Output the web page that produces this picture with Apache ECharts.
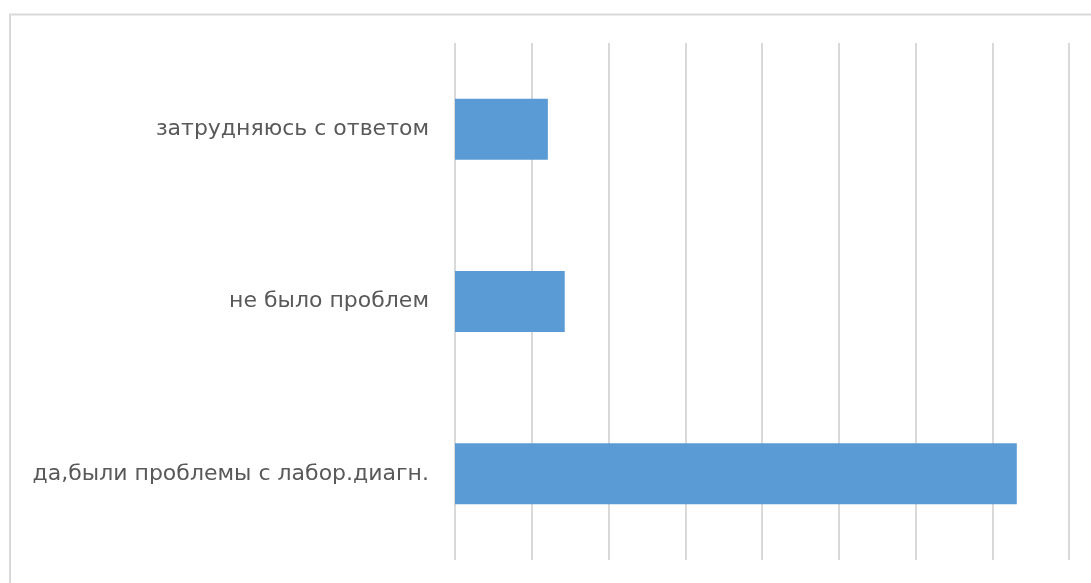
<!DOCTYPE html>
<html>
<head>
<meta charset="utf-8">
<script src="https://cdn.jsdelivr.net/npm/echarts@6/dist/echarts.min.js"></script>
<style>
html,body{margin:0;padding:0;background:#fff;}
#chart{width:1091px;height:583px;}
</style>
</head>
<body>
<div id="chart"></div>
<script>
const categories = ['затрудняюсь с ответом', 'не было проблем', 'да,были проблемы с лабор.диагн.'];
const values = [12.1, 14.3, 73.2];
const axisMin = 0, axisMax = 80, axisStep = 10;

const chart = echarts.init(document.getElementById('chart'));
chart.setOption({
  animation: false,
  backgroundColor: '#ffffff',
  graphic: [{
    type: 'rect',
    shape: { x: 10, y: 14.5, width: 1100, height: 600 },
    style: { fill: 'none', stroke: '#d9d9d9', lineWidth: 2 },
    silent: true
  }],
  grid: { left: 455, right: 22, top: 43, bottom: 23, containLabel: false },
  xAxis: {
    type: 'value',
    min: axisMin, max: axisMax, interval: axisStep,
    axisLabel: { show: false },
    axisLine: { show: false },
    axisTick: { show: false },
    splitLine: { show: true, lineStyle: { color: '#d9d9d9', width: 2 } }
  },
  yAxis: {
    type: 'category',
    data: categories,
    inverse: true,
    axisLine: { show: false },
    axisTick: { show: false },
    axisLabel: {
      margin: 26,
      color: '#595959',
      fontSize: 22,
      fontFamily: 'DejaVu Sans'
    }
  },
  series: [{
    type: 'bar',
    data: values,
    barCategoryGap: '64.6%',
    itemStyle: { color: '#5b9bd5' }
  }]
});
</script>
</body>
</html>
